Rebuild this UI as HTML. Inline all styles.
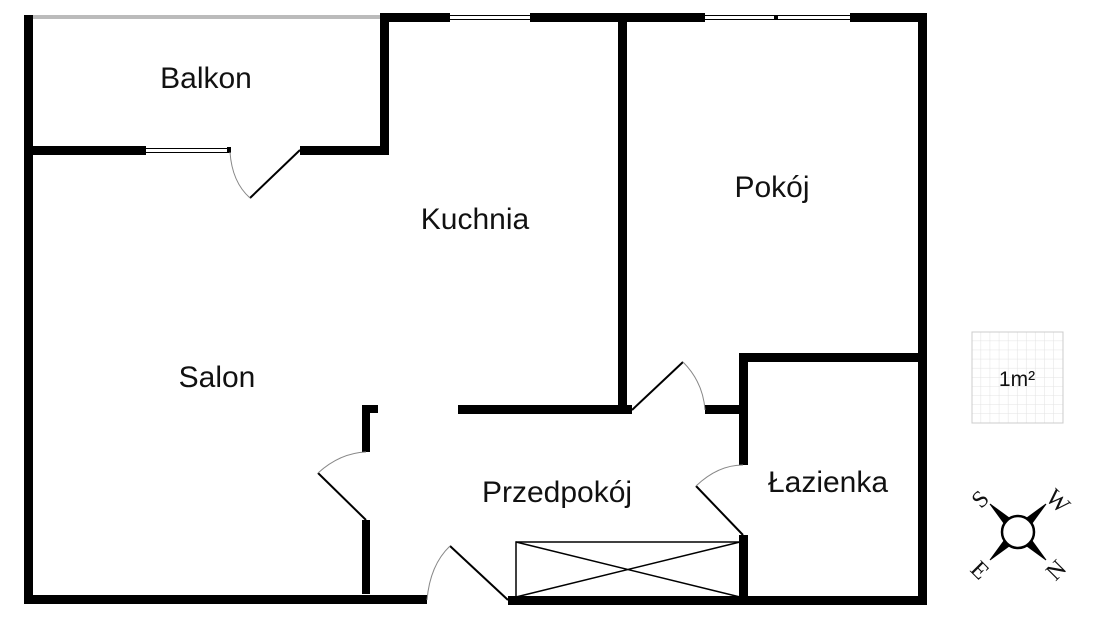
<!DOCTYPE html>
<html><head><meta charset="utf-8"><style>
html,body{margin:0;padding:0;background:#fff;width:1100px;height:619px;overflow:hidden}
svg text{font-family:"Liberation Sans",sans-serif;fill:#111}
</style></head><body>
<svg width="1100" height="619" viewBox="0 0 1100 619" xmlns="http://www.w3.org/2000/svg">
<defs>
<pattern id="g" width="9.1" height="9.1" patternUnits="userSpaceOnUse" x="972" y="332">
<path d="M9.1 0V9.1M0 9.1H9.1" stroke="#e2e2e2" stroke-width="1" fill="none"/></pattern>
</defs>
<g fill="#000">
<rect x="24" y="15" width="9" height="589"/>
<rect x="33" y="15" width="348" height="4" fill="#bbb"/>
<rect x="24" y="146" width="122" height="9"/>
<rect x="300" y="146" width="88" height="9"/>
<rect x="380" y="13" width="9" height="142"/>
<rect x="380" y="13" width="70" height="9"/>
<rect x="530" y="13" width="175" height="9"/>
<rect x="850" y="13" width="77" height="9"/>
<rect x="918" y="13" width="9" height="592"/>
<rect x="618" y="13" width="9" height="400"/>
<rect x="458" y="405" width="174" height="9"/>
<rect x="705" y="405" width="43" height="9"/>
<rect x="739" y="353" width="188" height="9"/>
<rect x="739" y="353" width="9" height="112"/>
<rect x="739" y="535" width="9" height="70"/>
<rect x="362" y="405" width="16" height="8"/>
<rect x="362" y="405" width="8" height="47"/>
<rect x="362" y="520" width="8" height="74"/>
<rect x="24" y="595" width="403" height="9"/>
<rect x="508" y="596" width="419" height="9"/>
</g>
<g stroke="#000" stroke-width="1" fill="none">
<path d="M146 148.5H230M146 152.5H230"/>
<path d="M450 15.5H530M450 19.5H530"/>
<path d="M705 15.5H850M705 19.5H850"/>
</g>
<rect x="227" y="147" width="4" height="6" fill="#000"/>
<rect x="774" y="15" width="4" height="5" fill="#000"/>
<g stroke="#000" stroke-width="2" fill="none">
<path d="M300 150L250 198"/>
<path d="M632 410L683 362"/>
<path d="M366 520L318 473"/>
<path d="M450 546L508 600"/>
<path d="M743 535L696 486"/>
</g>
<g stroke="#888" stroke-width="1" fill="none">
<path d="M230 152Q232 182 250 198"/>
<path d="M683 362Q703 382 705 410"/>
<path d="M318 473Q340 453 366 452"/>
<path d="M427 600Q430 565 450 546"/>
<path d="M696 486Q718 465 743 465"/>
</g>
<g stroke="#000" stroke-width="1.5" fill="none">
<rect x="516" y="542" width="224" height="55"/>
<path d="M516 542L740 597M516 597L740 542"/>
</g>
<g font-size="30" text-anchor="middle">
<text x="206" y="88">Balkon</text>
<text x="475" y="229">Kuchnia</text>
<text x="772" y="197">Pokój</text>
<text x="217" y="387">Salon</text>
<text x="557" y="502">Przedpokój</text>
<text x="828" y="492">Łazienka</text>
</g>
<rect x="972" y="332" width="91" height="91" fill="url(#g)" stroke="#ccc" stroke-width="1"/>
<text x="1017" y="386" font-size="21" text-anchor="middle">1m²</text>
<g transform="translate(1018,532)">
<g fill="#000" stroke="#000" stroke-width="1">
<path d="M-28 -28L-6 -12L-12 -6Z"/>
<path d="M28 -28L12 -6L6 -12Z"/>
<path d="M-28 28L-12 6L-6 12Z"/>
<path d="M28 28L6 12L12 6Z"/>
</g>
<circle r="16" fill="#fff" stroke="#000" stroke-width="2.5"/>
<g font-size="24" text-anchor="middle">
<text x="-38" y="-25" transform="rotate(-45 -38 -33)" style="font-family:'Liberation Serif',serif">S</text>
<text x="40" y="-23" transform="rotate(45 40 -31)" style="font-family:'Liberation Serif',serif">W</text>
<text x="-38" y="46" transform="rotate(45 -38 38)" style="font-family:'Liberation Serif',serif">E</text>
<text x="38" y="46" transform="rotate(-45 38 38)" style="font-family:'Liberation Serif',serif">N</text>
</g>
</g>
</svg>
</body></html>
